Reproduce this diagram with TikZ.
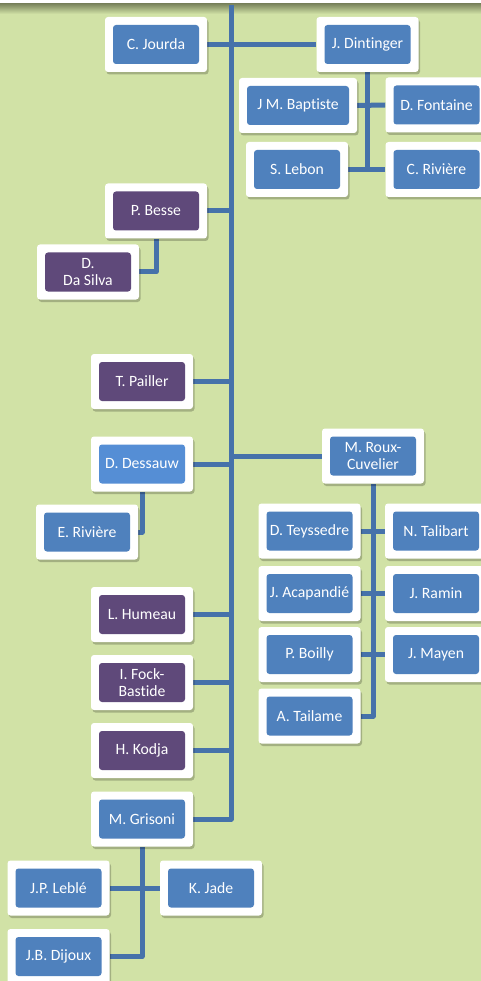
\documentclass[tikz,border=0pt]{standalone}
\usepackage{fontspec}
\setmainfont{Carlito}[Ligatures={NoCommon}]
\usetikzlibrary{shadows,calc}
\definecolor{bgG}{HTML}{D1E2A6}
\definecolor{topS}{RGB}{125,135,95}
\definecolor{blueF}{HTML}{4F81BD}
\definecolor{purpF}{HTML}{5F497A}
\definecolor{lightF}{HTML}{558ED5}
\definecolor{lineC}{HTML}{4672AA}
\pgfdeclarelayer{bg}
\pgfdeclarelayer{background}
\pgfsetlayers{bg,background,main}
\tikzset{
  box/.style={rectangle, rounded corners=3pt, fill=white, draw=none,
    minimum width=102pt, minimum height=55pt, inner sep=0pt,
    text=white, align=center, font=\fontsize{15.7}{17}\selectfont,
    drop shadow={shadow xshift=1.5pt, shadow yshift=-2.5pt, opacity=0.22, fill=black},
    path picture={\fill[#1] ([xshift=8pt,yshift=8pt]path picture bounding box.south west)
      rectangle ([xshift=-8pt,yshift=-8pt]path picture bounding box.north east);}},
  box/.default=blueF,
  link/.style={draw=lineC, line width=5pt, line join=round}
}
\begin{document}
\begin{tikzpicture}[x=1pt,y=-1pt]
\useasboundingbox (0,0) rectangle (481,981);
\begin{pgfonlayer}{bg}
  \fill[bgG] (0,0) rectangle (481,981);
  \fill[white] (0,0) rectangle (481,4);
  \shade[top color=topS, bottom color=bgG] (0,4) rectangle (481,14);
\end{pgfonlayer}
\coordinate (top) at (231,5);
% top group
\node[box] (jourda) at (156,44.5) {C. Jourda};
\node[box] (dint) at (367.5,44.5) {J. Dintinger};
\node[box, minimum width=118pt] (bapt) at (298,105.5) {J M. Baptiste};
\node[box] (font) at (436.5,105) {D. Fontaine};
\node[box] (lebon) at (297,169.5) {S. Lebon};
\node[box] (criv) at (436.5,169.5) {C. Rivière};
% left purple
\node[box=purpF] (besse) at (156,211) {P. Besse};
\node[box=purpF] (dasilva) at (88,272) {D.\\Da Silva};
\node[box=purpF] (pailler) at (142,381.5) {T. Pailler};
\node[box=lightF] (dessauw) at (142,464) {D. Dessauw};
\node[box] (eriv) at (87,532) {E. Rivière};
% right group
\node[box] (roux) at (373,456) {M. Roux-\\Cuvelier};
\node[box] (teys) at (309.5,531) {D. Teyssedre};
\node[box] (tali) at (436,531) {N. Talibart};
\node[box] (acap) at (309.5,593.5) {J. Acapandié};
\node[box] (ramin) at (436,593.5) {J. Ramin};
\node[box] (boilly) at (309.5,654.5) {P. Boilly};
\node[box] (mayen) at (436,654.5) {J. Mayen};
\node[box] (tail) at (309.5,716) {A. Tailame};
% lower left
\node[box=purpF] (humeau) at (142,614.5) {L. Humeau};
\node[box=purpF] (fock) at (142,682.5) {I. Fock-\\Bastide};
\node[box=purpF] (kodja) at (142,750.5) {H. Kodja};
\node[box] (gris) at (142,819) {M. Grisoni};
\node[box] (leble) at (58.5,888) {J.P. Leblé};
\node[box] (jade) at (211,888) {K. Jade};
\node[box] (dijoux) at (58.5,956.5) {J.B. Dijoux};
\begin{pgfonlayer}{background}
  \draw[link] (top) |- (gris.east);
  \draw[link] (jourda.east) -- (dint.west);
  \draw[link] (dint.south) -- (dint.south |- lebon.east);
  \draw[link] (bapt.east) -- (font.west);
  \draw[link] (lebon.east) -- (criv.west);
  \draw[link] (besse.east) -- (besse.east -| top);
  \draw[link] (besse.south) |- (dasilva.east);
  \draw[link] (pailler.east) -- (pailler.east -| top);
  \draw[link] (dessauw.east) -- (dessauw.east -| top);
  \draw[link] (dessauw.south) |- (eriv.east);
  \draw[link] (roux.west) -- (roux.west -| top);
  \draw[link] (roux.south) |- (tail.east);
  \draw[link] (teys.east) -- (tali.west);
  \draw[link] (acap.east) -- (ramin.west);
  \draw[link] (boilly.east) -- (mayen.west);
  \draw[link] (humeau.east) -- (humeau.east -| top);
  \draw[link] (fock.east) -- (fock.east -| top);
  \draw[link] (kodja.east) -- (kodja.east -| top);
  \draw[link] (gris.south) |- (dijoux.east);
  \draw[link] (leble.east) -- (jade.west);
\end{pgfonlayer}
\end{tikzpicture}
\end{document}
